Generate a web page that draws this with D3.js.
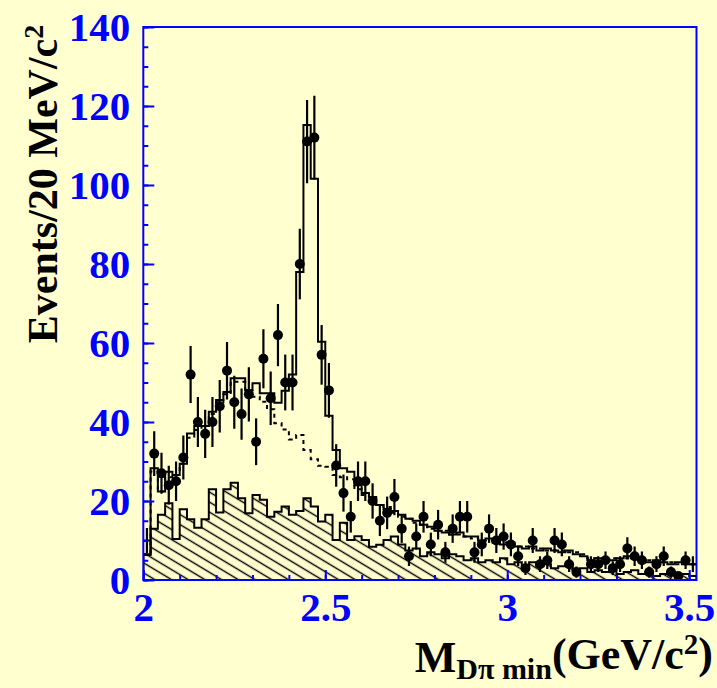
<!DOCTYPE html>
<html>
<head>
<meta charset="utf-8">
<script src="https://cdn.jsdelivr.net/npm/d3@7"></script>
<style>
  html, body { margin: 0; padding: 0; background: #ffffd0; }
  svg { display: block; }
</style>
</head>
<body>
<script>
// Bin layout: 20 MeV/c^2 bins starting at 2.00 GeV/c^2
const binStart = 2.0;
const binWidth = 0.02;

// Observed events per bin
const dataCounts = [
  10, 32, 27, 24, 25, 31, 52, 40, 37, 40,
  44, 53, 45, 42, 47, 35, 56, 46, 62, 50,
  50, 80, 111, 112, 57, 48, 29, 22, 16, 25,
  25, 20, 15, 17, 21, 13, 6, 11, 16, 9,
  14, 7, 13, 16, 16, 7, 9, 13, 10, 11,
  9, 6, 3, 10, 4, 5, 10, 9, 4, 2,
  0, 4, 4, 5, 3, 4, 8, 6, 5, 2,
  4, 6, 2, 1, 5, 4
];

// Total fit (solid histogram)
const totalFit = [
  6.5, 28.3, 22.4, 27.4, 26.6, 29.4, 37.1, 39.0, 39.0, 42.6,
  45.6, 47.6, 51.1, 51.1, 48.1, 49.8, 47.3, 47.3, 44.9, 47.9,
  52.0, 78.0, 115.2, 101.6, 60.3, 41.6, 32.9, 28.3, 27.4, 24.0,
  22.0, 21.0, 19.0, 18.0, 17.5, 16.5, 15.5, 15.0, 14.0, 13.5,
  12.5, 12.0, 11.5, 12.0, 11.0, 11.0, 10.0, 10.5, 9.5, 9.0,
  9.5, 8.5, 8.0, 8.5, 7.5, 8.0, 7.5, 7.0, 7.5, 6.5,
  6.0, 5.0, 5.5, 5.0, 5.0, 5.5, 6.0, 5.5, 5.0, 4.5,
  5.0, 4.5, 4.0, 4.5, 4.0, 4.0
];

// Background sum (dashed histogram)
const backgroundSum = [
  6.5, 27.5, 22.4, 26.0, 26.6, 29.4, 36.0, 38.0, 39.0, 42.0,
  45.0, 47.0, 50.2, 50.2, 48.0, 46.4, 45.1, 43.2, 39.7, 38.1,
  35.6, 36.7, 32.9, 30.6, 28.9, 28.7, 26.6, 26.0, 25.5, 23.0,
  21.5, 20.5, 19.0, 18.5, 17.0, 16.0, 15.5, 14.5, 14.0, 13.0,
  12.5, 12.5, 11.5, 11.5, 11.0, 10.5, 10.0, 10.0, 9.5, 9.5,
  9.0, 8.5, 8.5, 8.0, 8.0, 7.5, 7.5, 7.5, 7.0, 7.0,
  6.5, 5.5, 5.5, 5.0, 5.5, 5.0, 5.5, 5.5, 5.0, 5.0,
  4.5, 4.5, 4.5, 4.0, 4.0, 4.0
];

// Combinatorial background (hatched histogram)
const hatchedBkg = [
  6.3, 13.0, 16.5, 19.4, 10.4, 17.9, 15.4, 13.2, 15.4, 23.0,
  17.1, 23.0, 24.6, 20.7, 16.9, 21.5, 20.3, 16.0, 17.3, 18.6,
  16.5, 17.5, 20.7, 18.6, 14.8, 16.5, 10.1, 14.5, 10.1, 11.1,
  10.1, 8.4, 8.9, 10.1, 11.0, 9.0, 7.5, 8.0, 6.0, 7.0,
  6.5, 5.5, 6.5, 6.0, 5.0, 5.5, 4.5, 5.0, 4.5, 5.5,
  4.0, 4.5, 3.5, 4.5, 3.5, 4.0, 3.0, 3.5, 4.0, 2.5,
  3.0, 2.0, 2.5, 2.0, 2.5, 1.5, 2.0, 2.5, 1.5, 2.0,
  1.0, 1.5, 2.0, 1.0, 1.5, 1.0
];

// Axis ticks
const yMajorTicks = [0, 20, 40, 60, 80, 100, 120, 140];
const xMajorTicks = [2, 2.5, 3, 3.5];
const xTickLabels = ["2", "2.5", "3", "3.5"];

const W = 717, H = 688;
const plot = { left: 143.3, right: 696.5, top: 27, bottom: 580 };
const blue = "#0000ff";
const serif = "'Liberation Serif', 'Times New Roman', serif";

const nBins = dataCounts.length;
const x = d3.scaleLinear().domain([binStart, binStart + nBins * binWidth]).range([plot.left, plot.right]);
const y = d3.scaleLinear().domain([0, 140]).range([plot.bottom, plot.top]);

const svg = d3.select("body").append("svg").attr("width", W).attr("height", H);
svg.append("rect").attr("width", W).attr("height", H).attr("fill", "#ffffd0");

const defs = svg.append("defs");
defs.append("clipPath").attr("id", "plotClip")
  .append("rect")
  .attr("x", plot.left).attr("y", plot.top)
  .attr("width", plot.right - plot.left).attr("height", plot.bottom - plot.top);

// Diagonal hatching for the combinatorial background
const hatch = defs.append("pattern")
  .attr("id", "hatch")
  .attr("patternUnits", "userSpaceOnUse")
  .attr("width", 40).attr("height", 8.6)
  .attr("patternTransform", "rotate(31)");
hatch.append("line")
  .attr("x1", 0).attr("y1", 4.3).attr("x2", 40).attr("y2", 4.3)
  .attr("stroke", "#000").attr("stroke-width", 1.2);

const g = svg.append("g").attr("clip-path", "url(#plotClip)");

function stepPoints(values) {
  const pts = [];
  values.forEach((v, i) => {
    const x0 = binStart + i * binWidth;
    pts.push([x0, v], [x0 + binWidth, v]);
  });
  return pts;
}

const line = d3.line().x(d => x(d[0])).y(d => y(d[1]));

// Hatched area
const hatchPts = [[binStart, 0], ...stepPoints(hatchedBkg), [binStart + nBins * binWidth, 0]];
g.append("path")
  .attr("d", line(hatchPts) + "Z")
  .attr("fill", "url(#hatch)")
  .attr("stroke", "#000").attr("stroke-width", 2)
  .attr("stroke-linejoin", "miter");

// Dashed background sum
g.append("path")
  .attr("d", line(stepPoints(backgroundSum)))
  .attr("fill", "none")
  .attr("stroke", "#000").attr("stroke-width", 2)
  .attr("stroke-dasharray", "4,4");

// Solid total fit
g.append("path")
  .attr("d", line([[binStart, 0], ...stepPoints(totalFit)]))
  .attr("fill", "none")
  .attr("stroke", "#000").attr("stroke-width", 2);

// Data points with sqrt(N) error bars
const pts = dataCounts.map((n, i) => ({ i, n, xc: binStart + (i + 0.5) * binWidth }))
  .filter(d => d.n > 0);
g.selectAll("line.err").data(pts).enter().append("line")
  .attr("class", "err")
  .attr("x1", d => x(d.xc)).attr("x2", d => x(d.xc))
  .attr("y1", d => y(d.n - Math.sqrt(d.n))).attr("y2", d => y(d.n + Math.sqrt(d.n)))
  .attr("stroke", "#000").attr("stroke-width", 2.2);
const edgeBins = new Set([0, nBins - 1]);
g.selectAll("circle.pt").data(pts.filter(d => !edgeBins.has(d.i))).enter().append("circle")
  .attr("class", "pt")
  .attr("cx", d => x(d.xc)).attr("cy", d => y(d.n)).attr("r", 5)
  .attr("fill", "#000");
g.selectAll("line.cap").data(pts.filter(d => edgeBins.has(d.i))).enter().append("line")
  .attr("class", "cap")
  .attr("x1", d => x(d.xc) - 3.5).attr("x2", d => x(d.xc) + 3.5)
  .attr("y1", d => y(d.n)).attr("y2", d => y(d.n))
  .attr("stroke", "#000").attr("stroke-width", 2);

// Axes
const yMinor = d3.range(0, 141, 5);
svg.append("g")
  .attr("transform", `translate(${plot.left},0)`)
  .call(d3.axisLeft(y).tickValues(yMinor).tickSizeInner(-5).tickSizeOuter(0).tickFormat(""))
  .call(a => a.select(".domain").remove())
  .call(a => a.selectAll("line").attr("stroke", blue).attr("stroke-width", 2));
svg.append("g")
  .attr("transform", `translate(${plot.left},0)`)
  .call(d3.axisLeft(y).tickValues(yMajorTicks).tickSizeInner(-11).tickSizeOuter(0).tickPadding(13))
  .call(a => a.select(".domain").remove())
  .call(a => a.selectAll("line").attr("stroke", blue).attr("stroke-width", 2))
  .call(a => a.selectAll("text")
    .attr("fill", blue).attr("font-family", serif).attr("font-weight", "bold")
    .attr("font-size", 41).attr("dy", "0.34em"));

const xMinor = d3.range(0, 16).map(k => 2 + k * 0.1);
svg.append("g")
  .attr("transform", `translate(0,${plot.bottom})`)
  .call(d3.axisBottom(x).tickValues(xMinor).tickSizeInner(-5).tickSizeOuter(0).tickFormat(""))
  .call(a => a.select(".domain").remove())
  .call(a => a.selectAll("line").attr("stroke", blue).attr("stroke-width", 2));
svg.append("g")
  .attr("transform", `translate(0,${plot.bottom})`)
  .call(d3.axisBottom(x).tickValues(xMajorTicks).tickSizeInner(-10).tickSizeOuter(0).tickPadding(12)
    .tickFormat((d, i) => xTickLabels[i]))
  .call(a => a.select(".domain").remove())
  .call(a => a.selectAll("line").attr("stroke", blue).attr("stroke-width", 2))
  .call(a => a.selectAll("text")
    .attr("fill", blue).attr("font-family", serif).attr("font-weight", "bold")
    .attr("font-size", 41).attr("dy", "0.71em"));

// Frame
svg.append("rect")
  .attr("x", plot.left).attr("y", plot.top)
  .attr("width", plot.right - plot.left).attr("height", plot.bottom - plot.top)
  .attr("fill", "none").attr("stroke", blue).attr("stroke-width", 2);

// Axis titles
const yTitle = svg.append("text")
  .attr("transform", "translate(57,184) rotate(-90)")
  .attr("text-anchor", "middle")
  .attr("font-family", serif).attr("font-weight", "bold").attr("font-size", 42)
  .attr("fill", "#000");
yTitle.append("tspan").text("Events/20 MeV/c");
yTitle.append("tspan").attr("dy", "-0.5em").attr("font-size", 28).text("2");

const xTitle = svg.append("text")
  .attr("x", 713).attr("y", 672)
  .attr("text-anchor", "end")
  .attr("font-family", serif).attr("font-weight", "bold").attr("font-size", 44)
  .attr("fill", "#000");
xTitle.append("tspan").text("M");
xTitle.append("tspan").attr("dy", "0.24em").attr("font-size", 30).text("Dπ min");
xTitle.append("tspan").attr("dy", "-0.24em").attr("font-size", 44).text("(GeV/c");
xTitle.append("tspan").attr("dy", "-0.5em").attr("font-size", 29).text("2");
xTitle.append("tspan").attr("dy", "0.32em").attr("font-size", 44).text(")");
</script>
</body>
</html>
